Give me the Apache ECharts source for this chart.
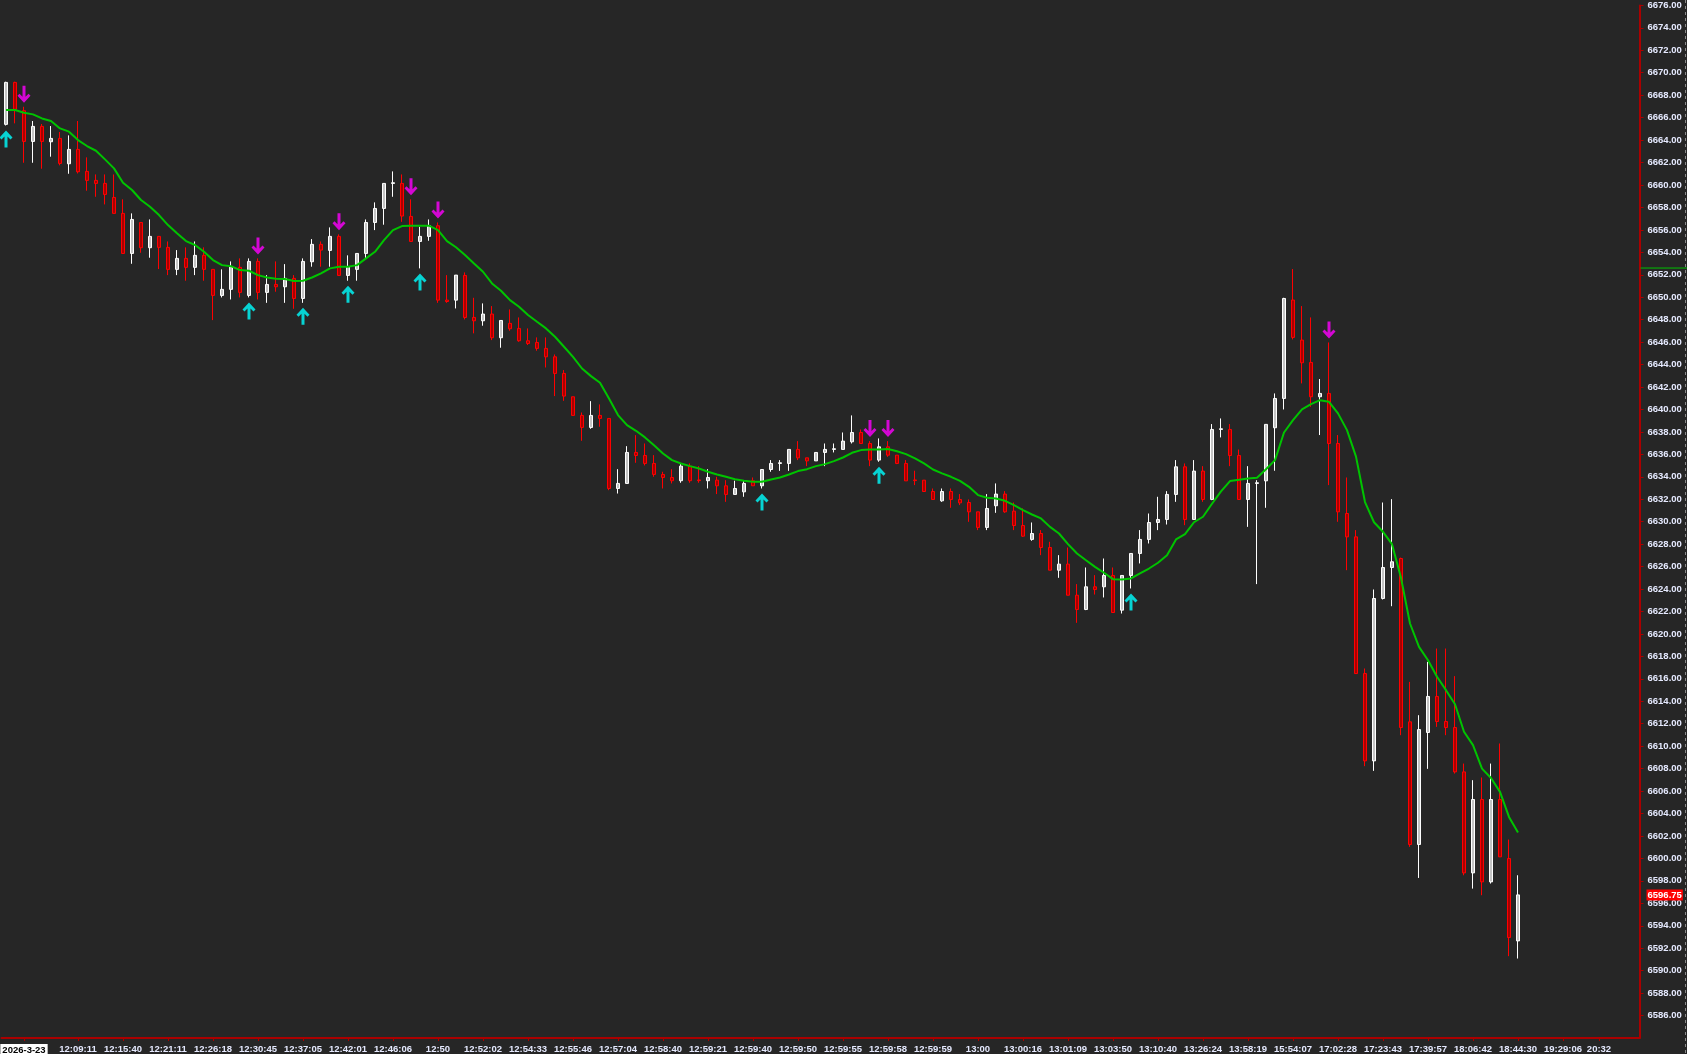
<!DOCTYPE html>
<html>
<head>
<meta charset="utf-8">
<script src="https://cdn.jsdelivr.net/npm/echarts@6/dist/echarts.min.js"></script>
<style>
html,body{margin:0;padding:0;background:#262626;overflow:hidden;}
#chart{width:1687px;height:1054px;}
</style>
</head>
<body>
<div id="chart"></div>
<script>
// ---------------- data ----------------
const opens = [
6665.40,6669.14,6666.62,6663.88,6665.22,6663.85,6664.15,6661.89,6663.17,6661.21,
6660.41,6660.14,6658.89,6657.47,6653.90,6656.66,6654.41,6655.42,6654.44,6652.48,
6653.46,6652.66,6653.73,6652.48,6650.16,6650.70,6652.66,6650.16,6653.19,6650.43,
6651.14,6650.93,6651.68,6649.89,6653.16,6654.71,6654.17,6655.42,6651.94,6652.48,
6653.90,6656.66,6657.91,6660.14,6660.14,6657.20,6654.97,6655.42,6656.37,6649.74,
6649.74,6651.94,6648.20,6647.90,6648.50,6646.39,6647.67,6647.22,6646.12,6645.97,
6645.44,6644.69,6643.21,6641.13,6639.47,6638.40,6639.47,6639.20,6632.96,6633.41,
6636.17,6635.90,6635.19,6634.21,6633.94,6633.65,6634.95,6633.72,6633.65,6633.70,
6633.20,6632.43,6632.66,6633.65,6633.20,6634.65,6635.19,6635.19,6636.44,6635.69,
6635.42,6636.17,6636.44,6636.44,6637.12,6637.95,6636.97,6635.49,6636.67,6635.93,
6635.19,6633.72,6633.70,6632.69,6631.86,6632.69,6631.98,6631.71,6630.88,6629.49,
6631.42,6632.46,6630.94,6629.66,6628.42,6628.95,6627.70,6625.68,6626.22,6623.45,
6622.18,6624.20,6624.20,6625.21,6622.12,6625.21,6627.17,6628.42,6629.93,6630.20,
6632.43,6634.89,6630.20,6634.51,6631.98,6638.22,6638.22,6635.90,6631.98,6633.41,
6633.64,6638.37,6640.98,6649.75,6646.18,6644.19,6641.13,6641.43,6636.97,6630.73,
6628.65,6616.47,6608.69,6623.16,6625.92,6626.72,6612.17,6601.24,6611.22,6614.43,
6612.20,6611.66,6607.71,6598.71,6605.25,6597.91,6605.25,6599.99,6592.65
];
const closes = [
6669.14,6666.74,6663.88,6665.22,6663.88,6664.15,6661.92,6663.17,6661.18,6660.41,
6660.14,6659.16,6657.47,6653.90,6656.93,6654.41,6655.42,6654.44,6652.48,6653.46,
6652.66,6653.73,6652.48,6650.16,6650.70,6652.72,6650.43,6653.19,6650.43,6651.14,
6650.93,6651.68,6649.89,6653.19,6654.71,6654.20,6655.42,6651.94,6652.72,6653.90,
6656.66,6657.91,6660.14,6660.20,6657.23,6654.97,6655.42,6656.37,6649.74,6649.62,
6651.97,6648.20,6647.90,6648.50,6646.39,6647.93,6647.19,6646.12,6645.88,6645.44,
6644.69,6643.21,6641.19,6639.47,6638.40,6639.47,6639.20,6632.96,6633.41,6636.17,
6635.90,6635.19,6634.21,6633.94,6633.65,6634.95,6633.65,6633.66,6633.94,6633.20,
6632.43,6632.96,6633.41,6633.20,6634.65,6635.19,6635.25,6636.44,6635.69,6635.42,
6636.17,6636.44,6636.50,6637.18,6637.95,6636.97,6635.49,6636.67,6635.93,6635.19,
6633.64,6633.66,6632.69,6631.98,6632.69,6631.98,6631.68,6630.88,6629.49,6631.18,
6632.46,6630.88,6629.66,6628.71,6628.95,6627.70,6625.68,6626.22,6623.45,6622.18,
6624.20,6623.96,6625.21,6621.91,6625.21,6627.17,6628.42,6629.93,6630.20,6632.43,
6634.89,6630.20,6634.51,6631.98,6638.22,6638.28,6635.90,6631.98,6633.41,6633.47,
6638.67,6640.98,6649.89,6646.42,6644.16,6641.13,6641.43,6636.97,6630.88,6628.65,
6616.47,6608.69,6623.16,6625.92,6626.43,6611.66,6601.24,6611.48,6614.43,6612.20,
6611.66,6607.71,6598.71,6605.25,6597.91,6605.25,6600.14,6592.95,6596.75
];
const lows = [
6665.30,6665.49,6661.98,6661.98,6661.45,6662.52,6661.75,6661.00,6661.03,6659.49,
6658.95,6658.27,6657.47,6653.90,6652.98,6653.96,6653.52,6652.51,6651.97,6651.97,
6651.47,6651.97,6651.47,6647.96,6649.98,6649.80,6649.98,6649.98,6649.80,6649.50,
6650.49,6649.50,6648.97,6649.50,6652.72,6652.72,6652.72,6651.94,6651.47,6651.47,
6653.46,6655.98,6656.46,6658.95,6656.72,6654.94,6652.57,6655.03,6649.50,6649.50,
6649.00,6648.02,6646.78,6647.46,6646.18,6645.50,6647.01,6646.03,6645.74,6645.23,
6643.74,6641.19,6640.77,6639.47,6637.21,6638.28,6638.46,6632.81,6632.51,6633.41,
6635.25,6635.01,6634.00,6632.96,6633.41,6633.47,6633.47,6633.47,6632.96,6632.46,
6631.77,6632.43,6632.22,6633.20,6632.96,6634.45,6634.53,6634.53,6635.49,6634.95,
6635.42,6634.95,6636.17,6636.44,6636.97,6636.97,6634.95,6635.34,6635.78,6635.13,
6633.64,6633.26,6632.69,6631.98,6631.77,6631.24,6631.48,6629.99,6629.25,6629.25,
6630.79,6630.79,6629.25,6628.65,6628.30,6627.02,6625.68,6625.00,6623.45,6620.99,
6622.12,6623.51,6623.25,6621.91,6621.82,6624.05,6626.28,6628.06,6629.25,6629.75,
6631.77,6629.69,6630.20,6631.77,6631.92,6637.51,6634.95,6631.98,6629.54,6624.44,
6631.24,6634.54,6640.00,6646.24,6642.32,6640.24,6637.72,6633.26,6629.99,6625.68,
6616.47,6608.22,6607.80,6623.07,6622.47,6610.98,6601.03,6598.26,6607.98,6611.72,
6610.98,6607.56,6598.50,6597.31,6596.72,6597.76,6600.14,6591.29,6591.08
];
const highs = [
6669.20,6669.20,6666.97,6665.70,6665.43,6665.25,6664.72,6664.42,6665.70,6662.46,
6660.94,6660.94,6660.94,6658.72,6657.47,6656.66,6656.93,6655.42,6654.97,6654.20,
6654.44,6654.97,6654.44,6652.48,6652.48,6653.19,6653.46,6653.46,6653.46,6651.97,
6653.19,6652.95,6651.97,6653.46,6655.18,6654.97,6656.22,6655.60,6653.73,6653.90,
6656.93,6658.45,6660.14,6661.21,6660.94,6658.72,6656.28,6656.93,6656.66,6651.97,
6651.97,6652.21,6649.95,6649.45,6649.21,6647.93,6648.91,6648.20,6647.22,6646.42,
6646.42,6644.90,6643.51,6641.13,6639.73,6640.74,6640.45,6639.20,6634.68,6636.73,
6637.71,6636.97,6635.93,6634.45,6634.68,6635.19,6635.19,6634.95,6634.68,6634.00,
6633.70,6633.65,6633.65,6633.94,6634.65,6635.49,6635.49,6636.44,6637.18,6635.69,
6636.17,6636.97,6636.97,6637.95,6639.47,6638.22,6637.18,6637.42,6637.18,6635.93,
6635.49,6634.54,6633.70,6632.96,6632.96,6632.96,6632.46,6631.98,6630.88,6632.46,
6633.41,6632.72,6631.71,6631.18,6629.93,6629.25,6628.21,6627.02,6627.70,6624.44,
6625.92,6625.24,6626.72,6625.92,6625.21,6627.17,6629.25,6630.73,6632.22,6632.72,
6635.49,6635.19,6635.49,6634.95,6638.70,6639.20,6638.70,6636.43,6634.95,6633.70,
6638.67,6641.43,6649.95,6652.51,6649.21,6648.20,6642.71,6645.97,6637.72,6633.94,
6629.25,6616.92,6623.96,6631.71,6632.01,6626.80,6615.73,6612.76,6617.51,6618.70,
6618.70,6616.24,6608.45,6606.97,6607.21,6608.45,6610.24,6601.68,6598.50
];
const maValues = [
6666.68,6666.68,6666.44,6666.29,6665.93,6665.70,6665.04,6664.75,6664.00,6663.47,
6663.05,6662.28,6661.48,6660.20,6659.55,6658.66,6658.06,6657.32,6656.43,6655.69,
6655.00,6654.65,6654.05,6653.31,6652.86,6652.77,6652.42,6652.36,6651.97,6651.76,
6651.65,6651.62,6651.44,6651.47,6651.76,6652.12,6652.57,6652.72,6652.72,6652.86,
6653.46,6654.05,6655.09,6655.98,6656.34,6656.37,6656.37,6656.37,6655.98,6655.00,
6654.45,6653.76,6653.01,6652.27,6651.23,6650.58,6649.74,6649.15,6648.41,6647.81,
6647.22,6646.48,6645.59,6644.69,6643.65,6642.97,6642.38,6640.98,6639.50,6638.60,
6638.10,6637.51,6636.82,6636.08,6635.49,6635.19,6634.95,6634.74,6634.45,6634.21,
6634.00,6633.79,6633.65,6633.56,6633.56,6633.76,6633.94,6634.21,6634.51,6634.68,
6634.95,6635.13,6635.40,6635.72,6636.14,6636.38,6636.44,6636.44,6636.48,6636.28,
6636.02,6635.64,6635.19,6634.65,6634.30,6634.00,6633.64,6633.11,6632.37,6632.13,
6632.07,6631.86,6631.48,6631.03,6630.64,6630.29,6629.54,6628.95,6628.00,6627.17,
6626.57,6625.98,6625.45,6624.88,6624.85,6624.94,6625.39,6625.83,6626.34,6627.02,
6628.42,6628.90,6629.95,6630.44,6631.60,6632.70,6633.62,6633.73,6633.85,6633.92,
6634.67,6635.49,6637.95,6639.05,6640.00,6640.48,6640.83,6640.68,6639.65,6638.16,
6635.80,6631.75,6629.95,6629.10,6628.00,6625.00,6620.93,6618.85,6617.66,6616.18,
6614.99,6613.74,6611.28,6610.09,6608.00,6607.17,6605.93,6603.70,6602.30
];
const sellSignalBars = [2, 28, 37, 45, 48, 96, 98, 147];
const buySignalBars = [0, 27, 33, 38, 46, 84, 97, 125];
const tickLabels = ['2026-3-23','12:09:11','12:15:40','12:21:11','12:26:18','12:30:45','12:37:05',
'12:42:01','12:46:06','12:50','12:52:02','12:54:33','12:55:46','12:57:04','12:58:40','12:59:21',
'12:59:40','12:59:50','12:59:55','12:59:58','12:59:59','13:00','13:00:16','13:01:09','13:03:50',
'13:10:40','13:26:24','13:58:19','15:54:07','17:02:28','17:23:43','17:39:57','18:06:42','18:44:30',
'19:29:06','20:32'];
const tickSlots = [2,8,13,18,23,28,33,38,43,48,53,58,63,68,73,78,83,88,93,98,103,108,113,118,123,
128,133,138,143,148,153,158,163,168,173,177];
const totalSlots = 182;
const yMin = 6584, yMax = 6676, yStep = 2;
const highLevel = 6652.6;

// ---------------- build ----------------
const cats = [];
for (let i = 0; i < totalSlots; i++) cats.push('');
const slotSet = {};
tickSlots.forEach((s, k) => { cats[s] = tickLabels[k]; slotSet[s] = k; });
const candles = opens.map((o, i) => [o, closes[i], lows[i], highs[i]]);
const lastClose = closes[closes.length - 1];
const sellPts = sellSignalBars.map(i => [i, highs[i]]);
const buyPts = buySignalBars.map(i => [i, lows[i]]);

const downArrow = 'path://M10,0 L16,0 L16,22 L22,16 L26,20 L13,34 L0,20 L4,16 L10,22 Z';
const upArrow = 'path://M10,34 L16,34 L16,12 L22,18 L26,14 L13,0 L0,14 L4,18 L10,12 Z';
const FONT = '"Liberation Sans",Arial,sans-serif';
const AXIS_RED = '#aa0000';
const LABEL_COLOR = '#e6eaff';

const chart = echarts.init(document.getElementById('chart'), null, {renderer: 'canvas'});
const option = {
  backgroundColor: '#262626',
  animation: false,
  grid: {left: 1.5, right: 47.5, top: 5.4, bottom: 16, containLabel: false, outerBoundsMode: 'none'},
  xAxis: {
    type: 'category',
    data: cats,
    boundaryGap: true,
    axisLine: {show: true, lineStyle: {color: AXIS_RED, width: 2}},
    axisTick: {show: true, length: 3, lineStyle: {color: AXIS_RED, width: 1},
      interval: (idx) => slotSet[idx] !== undefined, alignWithLabel: true},
    axisLabel: {
      interval: (idx) => slotSet[idx] !== undefined,
      hideOverlap: false,
      color: LABEL_COLOR, fontFamily: FONT, fontWeight: 'bold', fontSize: 9.5, margin: 6,
      formatter: (v, idx) => idx === tickSlots[0] ? '{d|' + v + '}' : v,
      rich: {d: {backgroundColor: '#ffffff', color: '#000000', fontFamily: FONT, fontWeight: 'bold', fontSize: 9.5, padding: [1, 2, 0, 2]}}
    },
    splitLine: {show: false}
  },
  yAxis: {
    type: 'value',
    position: 'right',
    min: yMin, max: yMax, interval: yStep,
    axisLine: {show: true, lineStyle: {color: AXIS_RED, width: 2}},
    axisTick: {show: true, length: 4, lineStyle: {color: AXIS_RED, width: 1}},
    axisLabel: {
      color: LABEL_COLOR, fontFamily: FONT, fontWeight: 'bold', fontSize: 9.5, margin: 8,
      showMinLabel: false, hideOverlap: false,
      formatter: (v) => v.toFixed(2)
    },
    splitLine: {show: false}
  },
  series: [
    {
      type: 'candlestick',
      data: candles,
      barWidth: 4,
      itemStyle: {
        color: '#c4c4c4', color0: '#a80000',
        borderColor: '#ffffff', borderColor0: '#ff0000', borderWidth: 1
      },
      z: 2
    },
    {
      type: 'line',
      data: maValues,
      showSymbol: false,
      symbol: 'none',
      smooth: false,
      lineStyle: {color: '#00c400', width: 2},
      z: 4
    },
    {
      type: 'scatter',
      data: sellPts,
      symbol: downArrow,
      symbolSize: [13, 17],
      symbolOffset: [0, -12.5],
      itemStyle: {color: '#ff00ff'},
      z: 5
    },
    {
      type: 'scatter',
      data: buyPts,
      symbol: upArrow,
      symbolSize: [13, 17],
      symbolOffset: [0, 13.5],
      itemStyle: {color: '#00ffff'},
      z: 5
    }
  ]
};
chart.setOption(option);

// axis decorations placed through the chart's own scale
const gridRight = chart.convertToPixel({xAxisIndex: 0}, totalSlots - 1) + 4.5;
const yHigh = chart.convertToPixel({yAxisIndex: 0}, highLevel);
const yLast = chart.convertToPixel({yAxisIndex: 0}, lastClose);
chart.setOption({
  graphic: [
    {type: 'line', shape: {x1: gridRight + 1, y1: yHigh, x2: 1687, y2: yHigh},
     style: {stroke: '#00c000', lineWidth: 1}, z: 10},
    {type: 'line', shape: {x1: 1685.5, y1: 0, x2: 1685.5, y2: 1054},
     style: {stroke: '#8a8a8a', lineWidth: 1, lineDash: [3, 3]}, z: 10},
    {type: 'text', x: gridRight + 7, y: yLast, z: 20,
     style: {text: lastClose.toFixed(2), fill: '#ffffff', font: 'bold 9.5px ' + FONT,
       backgroundColor: '#ff0000', padding: [1, 1, 0, 1], verticalAlign: 'middle', align: 'left'}}
  ]
});
</script>
</body>
</html>
